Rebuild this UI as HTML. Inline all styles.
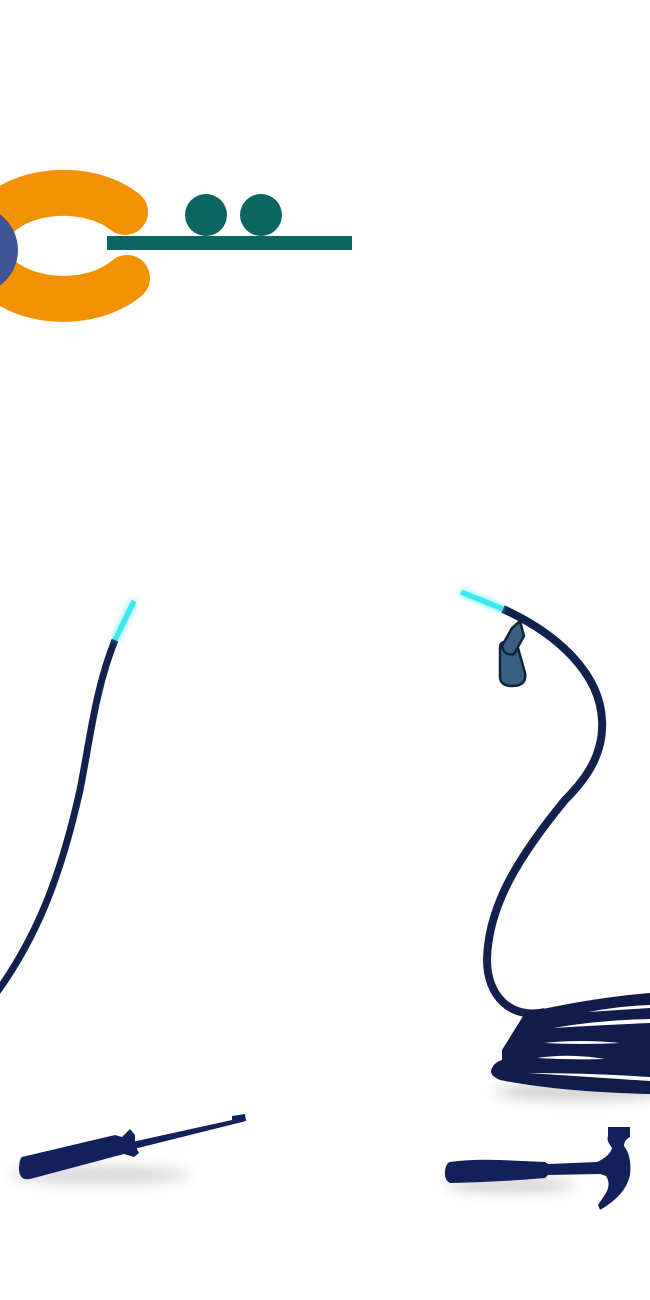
<!DOCTYPE html>
<html><head><style>html,body{margin:0;padding:0;background:#fff;width:650px;height:1300px;overflow:hidden}</style></head>
<body>
<svg width="650" height="1300" viewBox="0 0 650 1300" xmlns="http://www.w3.org/2000/svg">
<defs>
<filter id="glow" x="-50%" y="-50%" width="200%" height="200%"><feGaussianBlur stdDeviation="3" result="b"/><feMerge><feMergeNode in="b"/><feMergeNode in="SourceGraphic"/></feMerge></filter>
<filter id="sh" x="-30%" y="-100%" width="160%" height="300%"><feGaussianBlur stdDeviation="6"/></filter>
</defs>
<path d="M125,212 A80 53 0 1 0 127,278" fill="none" stroke="#f39200" stroke-width="46" stroke-linecap="round"/>
<circle cx="-26" cy="250" r="44" fill="#3f5596"/>
<rect x="107" y="236" width="245" height="14" fill="#0b6663"/>
<circle cx="206" cy="215" r="21" fill="#0b6663"/>
<circle cx="261" cy="215" r="21" fill="#0b6663"/>
<path d="M115,640 C95,690 90,740 80,790 C60,880 35,940 -5,995" fill="none" stroke="#13214f" stroke-width="7"/>
<line x1="115" y1="640" x2="134" y2="601" stroke="#3de9f0" stroke-width="5" filter="url(#glow)"/>
<ellipse cx="100" cy="1175" rx="90" ry="10" fill="#999" opacity="0.35" filter="url(#sh)"/>
<g fill="#13215a">
<path d="M22,1157 L115,1135 L122,1137 L130,1129 L135,1135 L135,1145 L139,1153 L134,1157 L124,1154 L30,1179 Q20,1181 19,1170 Q19,1159 22,1157 Z"/>
<path d="M132,1142 L232,1120 L232,1116 L245,1114 L246,1121 L234,1124 L134,1149 Z"/>
</g>
<path d="M503,609 C560,635 600,675 602,720 C604,755 585,780 565,800 C520,855 488,905 487,960 C487,995 510,1020 545,1012" fill="none" stroke="#13214f" stroke-width="8"/>
<line x1="503" y1="609" x2="461" y2="592" stroke="#3de9f0" stroke-width="5" filter="url(#glow)"/>
<path d="M500,648 Q500,640 510,642 L518,648 L525,673 Q527,686 512,686 Q500,686 500,676 Z" fill="#3a5f85" stroke="#0d2535" stroke-width="2.5"/>
<path d="M512,628 L502,646 Q504,656 514,654 L524,636 L520,621 Z" fill="#3a5f85" stroke="#0d2535" stroke-width="2.5"/>
<ellipse cx="580" cy="1092" rx="85" ry="10" fill="#888" opacity="0.35" filter="url(#sh)"/>
<path d="M525,1013 Q590,998 650,993 L650,1094 Q560,1092 500,1080 Q488,1075 492,1068 Q495,1062 502,1060 L502,1050 Z" fill="#121c4a"/>
<g fill="#fff">
<path d="M588,1012 Q620,1006 650,1005 L650,1008 Q620,1010 588,1012 Z"/>
<path d="M553,1028 Q600,1020 650,1019 L650,1023 Q600,1025 553,1028 Z"/>
<path d="M544,1043 Q580,1039 620,1043 Q580,1045 544,1043 Z"/>
<path d="M537,1058 Q570,1053 605,1059 Q570,1060 537,1058 Z"/>
<path d="M528,1073 Q590,1073 650,1077 L650,1081 Q590,1077 528,1073 Z"/>
</g>
<ellipse cx="510" cy="1185" rx="65" ry="8" fill="#888" opacity="0.35" filter="url(#sh)"/>
<path d="M450,1162 Q470,1159 500,1160 L545,1162 L548,1164 L597,1162 Q610,1156 612,1148 Q606,1140 608,1136 L608,1127 L630,1127 L630,1137 Q624,1140 624,1146 Q632,1156 630,1175 Q626,1195 600,1210 L598,1205 L604,1196 Q612,1185 606,1176 L600,1174 L548,1175 L545,1178 Q500,1182 450,1183 Q444,1180 445,1171 Q446,1163 450,1162 Z" fill="#13215a"/>
</svg>
</body></html>
